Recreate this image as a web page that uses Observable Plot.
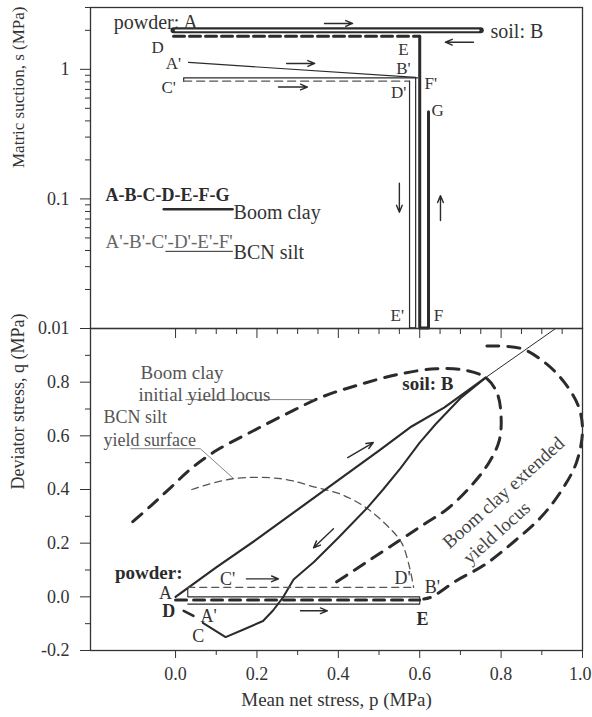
<!DOCTYPE html>
<html><head><meta charset="utf-8">
<script src="https://cdn.jsdelivr.net/npm/d3@7"></script>
<script src="https://cdn.jsdelivr.net/npm/@observablehq/plot@0.6"></script>
<style>
body{margin:0;background:#fff;}
#chart{width:592px;}
#chart svg{display:block;overflow:visible;}
#lower{margin-top:-2px;}
</style></head><body><div id="chart"><div id="upper"></div><div id="lower"></div></div>
<script>
const FONT = "'Liberation Serif','Times New Roman',serif";
const INK = "#2b2b2b";
const pDomain = [-0.209, 1.0];
const sDomain = [0.01, 3];
const qDomain = [-0.2, 1.0];

// ---------- top panel (p, s) ----------
const clayAB = [[-0.005, 2.0], [0.75, 2.0]];
const clayDE = [[-0.005, 1.8], [0.6, 1.8]];
const clayEFG = [[0.6, 1.8], [0.6, 0.0101], [0.6216, 0.0101], [0.6216, 0.47]];
const siltAB = [[0.032, 1.13], [0.59, 0.867]];
const siltBC = [[0.595, 0.86], [0.02, 0.86], [0.02, 0.81]];
const siltCD = [[0.02, 0.81], [0.575, 0.81]];
const siltDEF = [[0.575, 0.81], [0.575, 0.0101], [0.59, 0.0101], [0.59, 0.86]];
const legendClay = [[-0.029, 0.0832], [0.14, 0.0832]];
const legendSilt = [[-0.024, 0.0394], [0.14, 0.0394]];

const labelsTopStart = [[-0.152, 2.30, "powder: A"], [0.774, 1.966, "soil: B"]];
const labelsTop = [
  [-0.044, 1.48, "D"], [0.56, 1.43, "E"],
  [-0.005, 1.11, "A'"], [0.56, 1.018, "B'"],
  [-0.017, 0.726, "C'"], [0.627, 0.78, "F'"],
  [0.548, 0.665, "D'"], [0.644, 0.48, "G"],
  [0.545, 0.0126, "E'"], [0.646, 0.0126, "F"]
];
const legendNames = [[0.1425, 0.0788, "Boom clay"], [0.1425, 0.0385, "BCN silt"]];
const legendClayText = [[-0.172, 0.107, "A-B-C-D-E-F-G"]];
const legendSiltText = [[-0.172, 0.0462, "A'-B'-C'-D'-E'-F'"]];
const arrowsTop = [
  [0.366, 2.26, 0.435, 2.26], [0.732, 1.62, 0.663, 1.62],
  [0.273, 1.11, 0.342, 1.11], [0.253, 0.73, 0.324, 0.73],
  [0.55, 0.132, 0.55, 0.079], [0.651, 0.068, 0.651, 0.106]
];
const sMajor = [0.01, 0.1, 1];
const sMinor = [0.02,0.03,0.04,0.05,0.06,0.07,0.08,0.09,0.2,0.3,0.4,0.5,0.6,0.7,0.8,0.9,2,3];

// ---------- lower panel (p, q) ----------
const clayLoad = [[0,0],[0.1,0.11],[0.2,0.215],[0.3,0.325],[0.4,0.435],[0.5,0.545],[0.58,0.635],[0.66,0.705],[0.762,0.817]];
const csl = [[0.762,0.817],[0.934,1.0]];
const clayUnload = [[0.762,0.817],[0.70,0.74],[0.64,0.645],[0.60,0.575],[0.553,0.48],[0.51,0.40],[0.47,0.33],[0.40,0.22],[0.34,0.13],[0.29,0.065],[0.265,0.0],[0.24,-0.05],[0.215,-0.09],[0.17,-0.12],[0.123,-0.15],[0.067,-0.097]];
const clayCD = [[0.044,-0.071],[0.02,-0.052]];
const clayDEq = [[0.0,-0.012],[0.6,-0.012]];
const siltPathQ = [[0.03,-0.027],[0.6,-0.027],[0.6,0.0],[0.03,0.0],[0.03,0.035]];
const siltCDq = [[0.03,0.035],[0.58,0.035]];
const initialLocus = [[-0.105,0.28],[-0.06,0.34],[-0.01,0.41],[0.04,0.48],[0.10,0.545],[0.18,0.61],[0.27,0.68],[0.36,0.745],[0.45,0.79],[0.55,0.83],[0.64,0.85],[0.71,0.845],[0.762,0.817],[0.79,0.76],[0.80,0.67],[0.795,0.58],[0.77,0.50],[0.73,0.42],[0.67,0.33],[0.61,0.27],[0.55,0.21],[0.47,0.13],[0.38,0.04]];
const extendedLocus = [[0.765,0.935],[0.85,0.925],[0.91,0.87],[0.955,0.80],[0.99,0.71],[1.0,0.62],[0.985,0.50],[0.95,0.40],[0.90,0.30],[0.835,0.21],[0.76,0.12],[0.69,0.06],[0.63,0.0],[0.61,-0.008]];
const siltSurface = [[0.04,0.40],[0.14,0.44],[0.26,0.44],[0.34,0.41],[0.41,0.38],[0.47,0.33],[0.53,0.25],[0.556,0.20],[0.575,0.11],[0.585,0.035]];
const leaderInitial = [[0.025,0.735],[0.339,0.735]];
const leaderSilt = [[-0.11,0.552],[0.061,0.552],[0.143,0.44]];
const labelsLow = [
  [-0.025, 0.015, "A"], [0.081, -0.071, "A'"], [0.056, -0.146, "C"],
  [0.128, 0.067, "C'"], [0.558, 0.071, "D'"], [0.631, 0.034, "B'"]
];
const labelsLowBold = [[-0.017, -0.052, "D"], [0.607, -0.082, "E"]];
const labelsLowEnd = [[0.017, 0.09, "powder:"], [0.683, 0.795, "soil: B"]];
const notesClay = [[-0.086, 0.834, "Boom clay"], [-0.091, 0.753, "initial yield locus"]];
const notesSilt = [[-0.177, 0.668, "BCN silt"], [-0.177, 0.582, "yield surface"]];
const notesRot = [[0.806, 0.388, "Boom clay extended"], [0.789, 0.239, "yield locus"]];
const arrowsLow = [
  [0.423, 0.519, 0.486, 0.575], [0.388, 0.254, 0.339, 0.183],
  [0.174, 0.067, 0.253, 0.067], [0.307, -0.052, 0.373, -0.052]
];
const qMajor = [-0.2, 0, 0.2, 0.4, 0.6, 0.8];
const qMinor = [-0.1, 0.1, 0.3, 0.5, 0.7, 0.9];
const pMajor = [0, 0.2, 0.4, 0.6, 0.8];
const pEdge = [1.0];
const pMinor = [0.1, 0.3, 0.5, 0.7, 0.9];
const pTopMajor = [0, 0.2, 0.4, 0.6, 0.8];
const pTopMinor = [0.05,0.1,0.15,0.25,0.3,0.35,0.45,0.5,0.55,0.65,0.7,0.75,0.85,0.9,0.95];

const X = d => d[0], Y = d => d[1], T = d => d[2];
const ln = (data, o) => Plot.line(data, {x: X, y: Y, stroke: INK, ...o});
const tx = (data, o) => Plot.text(data, {x: X, y: Y, text: T, fill: "#333", ...o});
const arr = (data) => Plot.arrow(data, {x1: d => d[0], y1: d => d[1], x2: d => d[2], y2: d => d[3], stroke: INK, strokeWidth: 1.4, headLength: 8, headAngle: 45});
const noText = () => "";

const upper = Plot.plot({
  width: 592, height: 329,
  marginTop: 7, marginBottom: 1, marginLeft: 90, marginRight: 10,
  style: {fontFamily: FONT, fontSize: "18px", color: "#333", background: "#fff"},
  x: {domain: pDomain, axis: null},
  y: {type: "log", domain: sDomain, axis: null},
  marks: [
    Plot.axisY(sMajor, {tickSize: 10, tickPadding: 11, tickFormat: d => String(d), label: null, fontSize: 18}),
    Plot.axisY(sMinor, {tickSize: 5, tickFormat: noText, label: null}),
    Plot.text(["Matric suction, s (MPa)"], {text: d => d, frameAnchor: "left", dx: -72, rotate: -90, fontSize: 17, fill: "#333"}),
    ln(clayAB, {strokeWidth: 6, strokeLinecap: "round"}),
    ln([[0.0, 2.0], [0.745, 2.0]], {stroke: "#fff", strokeWidth: 1.8}),
    ln(clayDE, {strokeWidth: 3, strokeDasharray: "11,5"}),
    ln(clayEFG, {strokeWidth: 3}),
    ln(siltAB, {strokeWidth: 1.2}),
    ln(siltBC, {strokeWidth: 1.2}),
    ln(siltCD, {strokeWidth: 1.3, strokeDasharray: "8,5", stroke: "#555"}),
    ln(siltDEF, {strokeWidth: 1.2}),
    ln(legendClay, {strokeWidth: 2.5}),
    ln(legendSilt, {strokeWidth: 1}),
    arr(arrowsTop),
    tx(labelsTopStart, {textAnchor: "start", fontSize: 20}),
    tx(labelsTop, {fontSize: 17}),
    tx(legendNames, {textAnchor: "start", fontSize: 20}),
    tx(legendClayText, {textAnchor: "start", fontWeight: "bold", fontSize: 18, fill: INK}),
    tx(legendSiltText, {textAnchor: "start", fontSize: 19, fill: "#666"}),
    Plot.frame({stroke: "#333", strokeWidth: 1.3})
  ]
});

const lower = Plot.plot({
  width: 592, height: 390,
  marginTop: 1, marginBottom: 67, marginLeft: 90, marginRight: 10,
  style: {fontFamily: FONT, fontSize: "18px", color: "#333", background: "transparent"},
  x: {domain: pDomain, axis: null},
  y: {domain: qDomain, axis: null},
  marks: [
    Plot.axisY(qMajor, {tickSize: 10, tickPadding: 11, tickFormat: d => d.toFixed(1), label: null, fontSize: 18}),
    Plot.axisY(qMinor, {tickSize: 5, tickFormat: noText, label: null}),
    Plot.axisX(pMajor, {anchor: "bottom", tickSize: 8, tickPadding: 9, tickFormat: d => d.toFixed(1), label: null, fontSize: 18}),
    Plot.axisX(pEdge, {anchor: "bottom", tickSize: 8, tickFormat: noText, label: null}),
    Plot.axisX(pEdge, {anchor: "bottom", tickSize: 0, tickPadding: 17, tickFormat: d => d.toFixed(1), label: null, fontSize: 18, textAnchor: "end", dx: 9}),
    Plot.axisX(pMinor, {anchor: "bottom", tickSize: 5, tickFormat: noText, label: null}),
    Plot.axisX(pTopMajor, {anchor: "top", tickSize: -9, tickFormat: noText, label: null}),
    Plot.axisX(pTopMinor, {anchor: "top", tickSize: -5, tickFormat: noText, label: null}),
    Plot.text(["Deviator stress, q (MPa)"], {text: d => d, frameAnchor: "left", dx: -72, rotate: -90, fontSize: 18, fill: "#333"}),
    Plot.text(["Mean net stress, p (MPa)"], {text: d => d, frameAnchor: "bottom", dy: 55, fontSize: 19, fill: "#333"}),
    ln(initialLocus, {strokeWidth: 3, strokeDasharray: "12,9", curve: "catmull-rom"}),
    ln(extendedLocus, {strokeWidth: 3, strokeDasharray: "12,9", curve: "catmull-rom"}),
    ln(siltSurface, {strokeWidth: 1.3, strokeDasharray: "7,5", stroke: "#555", curve: "catmull-rom"}),
    ln(leaderInitial, {strokeWidth: 0.9, stroke: "#777"}),
    ln(leaderSilt, {strokeWidth: 0.9, stroke: "#777"}),
    ln(csl, {strokeWidth: 1}),
    ln(clayLoad, {strokeWidth: 2.2}),
    ln(clayUnload, {strokeWidth: 2}),
    ln(clayCD, {strokeWidth: 2.5}),
    ln(clayDEq, {strokeWidth: 3, strokeDasharray: "11,7"}),
    ln(siltPathQ, {strokeWidth: 1.1}),
    ln(siltCDq, {strokeWidth: 1.2, strokeDasharray: "7,5", stroke: "#555"}),
    arr(arrowsLow),
    tx(labelsLow, {fontSize: 18}),
    tx(labelsLowBold, {fontSize: 18, fontWeight: "bold", fill: INK}),
    tx(labelsLowEnd, {textAnchor: "end", fontWeight: "bold", fontSize: 19, fill: INK}),
    tx(notesClay, {textAnchor: "start", fontSize: 19, fill: "#555"}),
    tx(notesSilt, {textAnchor: "start", fontSize: 18, fill: "#555"}),
    tx(notesRot, {rotate: -42, fontSize: 19, fill: "#444"}),
    Plot.frame({stroke: "#333", strokeWidth: 1.3})
  ]
});

document.getElementById("upper").append(upper);
document.getElementById("lower").append(lower);
</script></body></html>
